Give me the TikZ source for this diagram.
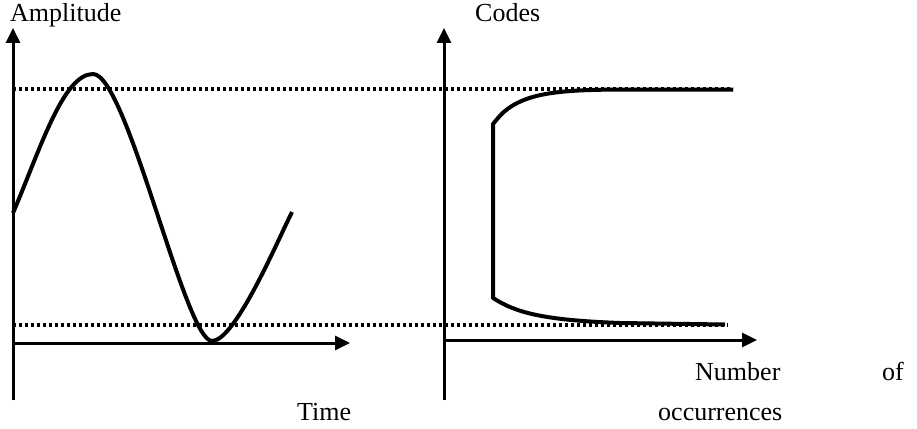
\documentclass[tikz,border=0pt]{standalone}
\usepackage{fontspec}
\setmainfont{Liberation Serif}
\usetikzlibrary{arrows.meta}
\begin{document}
\begin{tikzpicture}[x=1pt,y=-1pt,
  axis/.style={line width=3pt,-{Triangle[length=15pt,width=14pt]}},
  curve/.style={line width=4pt,line join=round},
  guide/.style={line width=3.2pt,dash pattern=on 3.2pt off 2.8pt},
  lbl/.style={anchor=base west,inner sep=0pt,font=\fontsize{26}{30}\selectfont}]
\useasboundingbox (0,0) rectangle (917,428);

% axis end points
\coordinate (lbot) at (13,400);
\coordinate (ltop) at (13,28);
\coordinate (lx0) at (13,343);
\coordinate (lx1) at (350,343);
\coordinate (rbot) at (444,400);
\coordinate (rtop) at (444,28);
\coordinate (rx0) at (444,340);
\coordinate (rx1) at (757,340);
\coordinate (hi0) at (13,89);
\coordinate (hi1) at (733,89);
\coordinate (lo0) at (13,325);
\coordinate (lo1) at (728,325);

% dotted level lines
\draw[guide] (hi0) -- (hi1);
\draw[guide] (lo0) -- (lo1);

% axes
\draw[axis] (lbot) -- (ltop);
\draw[axis] (lx0) -- (lx1);
\draw[axis] (rbot) -- (rtop);
\draw[axis] (rx0) -- (rx1);

% signal over time
\draw[curve] (13,213)
  .. controls (40,150) and (63,74) .. (93,74)
  .. controls (127,74) and (185,341) .. (212,341)
  .. controls (235,341) and (277,242) .. (292,212);

% code histogram
\draw[curve] (733,89.5) -- (620,89.5)
  .. controls (560,90) and (520,92) .. (498,118)
  -- (493,124) -- (493,298)
  .. controls (515,312) and (540,320) .. (620,323)
  -- (725,324.5);

% labels
\node[lbl] (amp) at (10,22) {Amplitude};
\node[lbl] (time) at (297,420) {Time};
\node[lbl] (codes) at (475,22) {Codes};
\node[lbl] (num) at (695,380) {Number};
\node[lbl] (of) at (882,380) {of};
\node[lbl] (occ) at (658,420) {occurrences};
\end{tikzpicture}
\end{document}
